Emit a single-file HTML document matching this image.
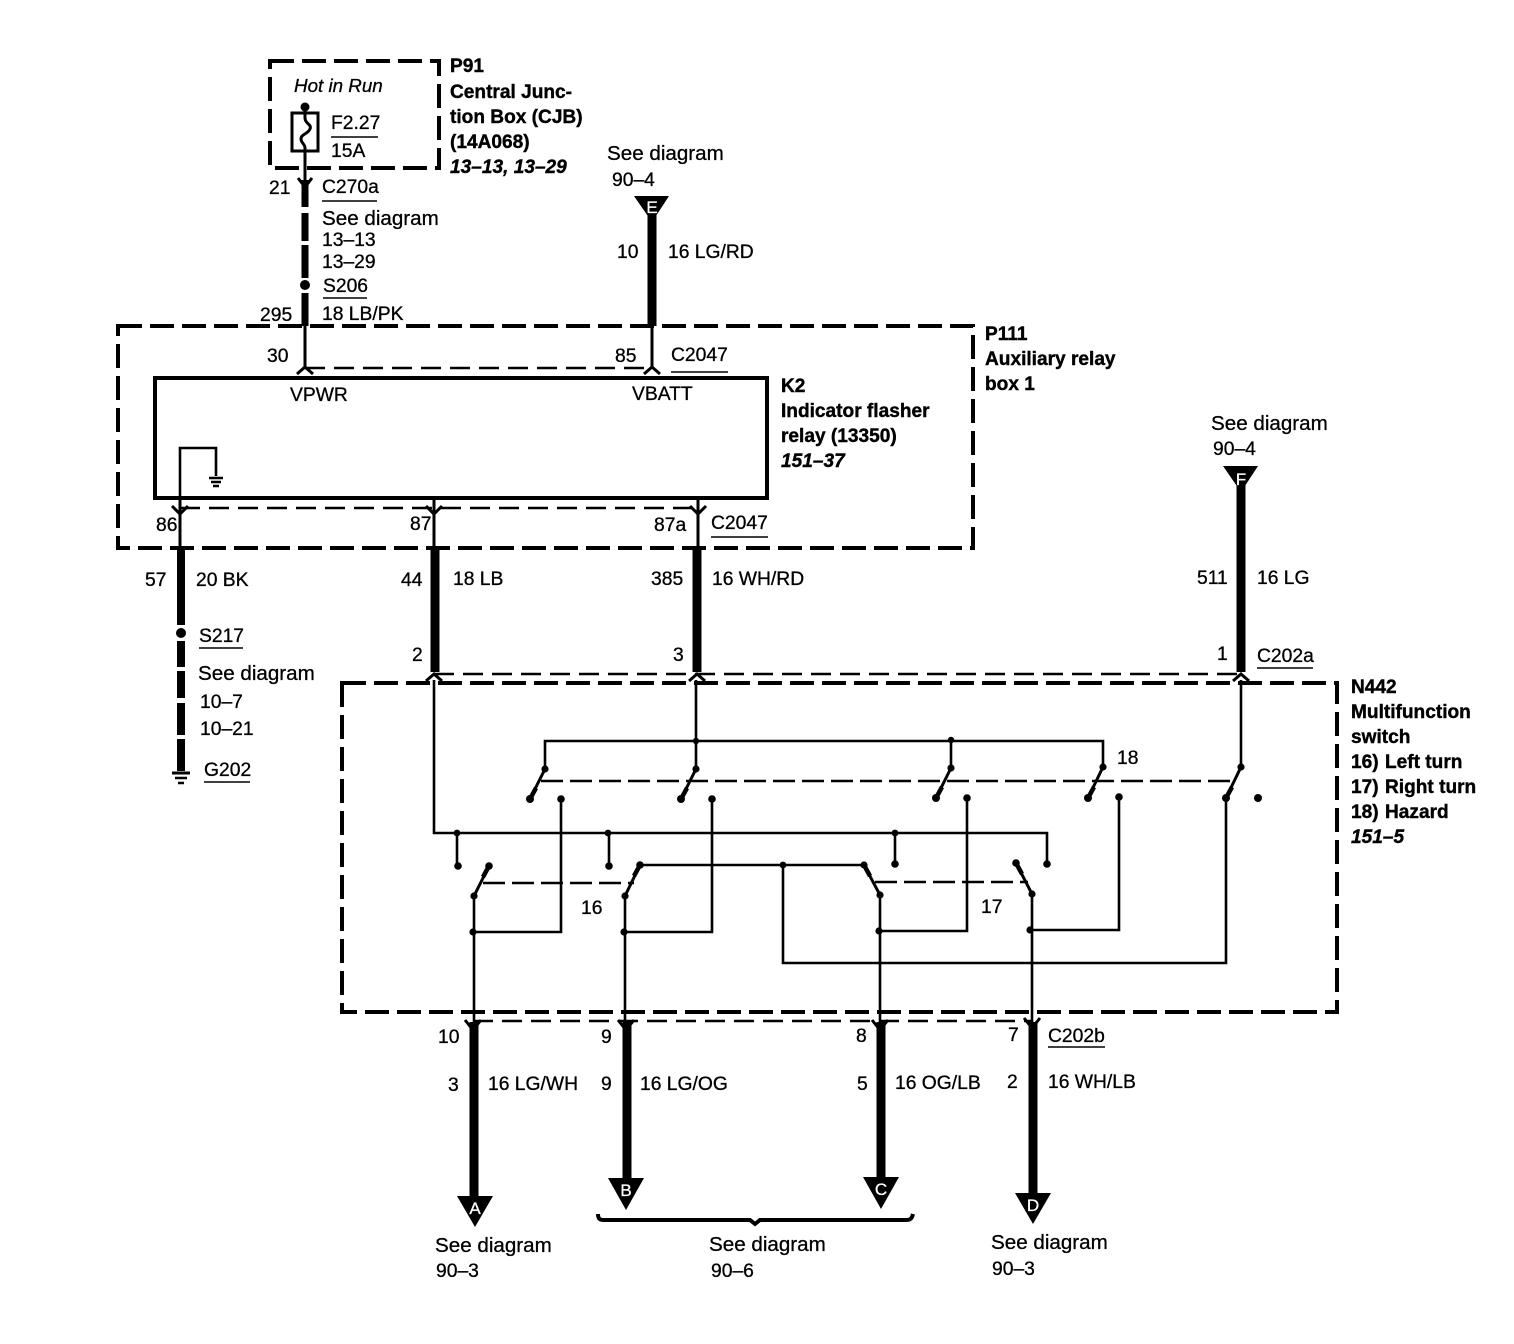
<!DOCTYPE html>
<html><head><meta charset="utf-8"><style>
html,body{margin:0;padding:0;background:#fff;width:1514px;height:1344px;overflow:hidden}
svg{display:block}
text{font-family:"Liberation Sans",sans-serif;font-size:19.3px;fill:#000;stroke:#000;stroke-width:.3}
.b{font-weight:bold;font-size:19.1px;stroke-width:.4}
.bi{font-weight:bold;font-style:italic;font-size:19.1px;stroke-width:.4}
.w{fill:#fff;stroke:#fff;font-weight:normal;font-size:17px;text-anchor:middle}
.sd{font-size:20.6px}
.bx{fill:none;stroke:#000;stroke-width:4;stroke-dasharray:24 8}
.cn{fill:none;stroke:#000;stroke-width:2.5;stroke-dasharray:20 9}
.t{fill:none;stroke:#000;stroke-width:2.6}
.m{fill:none;stroke:#000;stroke-width:3}
.u{fill:none;stroke:#000;stroke-width:1.6}
</style></head><body>
<svg width="1514" height="1344" viewBox="0 0 1514 1344" xmlns="http://www.w3.org/2000/svg">
<!-- boxes -->
<rect class="bx" x="270" y="61" width="169" height="107"/>
<rect class="bx" x="118" y="326" width="855" height="222"/>
<rect class="bx" x="342" y="683" width="995" height="329"/>
<rect x="155" y="378" width="612" height="120" fill="none" stroke="#000" stroke-width="4"/>
<!-- connector dashes -->
<path class="cn" d="M305 368H652"/>
<path class="cn" d="M180 508H698"/>
<path class="cn" d="M434 674H1240"/>
<path class="cn" d="M473 1021H1033"/>
<!-- fuse -->
<circle cx="305" cy="107" r="4.5"/>
<rect class="m" x="292" y="113" width="26" height="38"/>
<path class="m" d="M305 107V118C305 124 312 124 310 129C308 134 301 134 301 139C301 143 305 144 305 148V180"/>
<!-- P91 wire -->
<path d="M305 180V207" stroke="#000" stroke-width="7"/>
<path d="M305 213V241M305 245V278M305 293V326" stroke="#000" stroke-width="7"/>
<circle cx="305" cy="285" r="5"/>
<path class="m" d="M298 178L305 187L312 178"/>
<path class="m" d="M305 326V368"/>
<path class="m" d="M297 374L305 367L313 374"/>
<!-- E wire -->
<path d="M652 215V326" stroke="#000" stroke-width="9"/>
<path class="m" d="M652 326V368"/>
<path class="m" d="M644 374L652 367L660 374"/>
<polygon points="634,196 669,196 652,222"/>
<text class="w" x="652" y="213">E</text>
<!-- relay ground -->
<path class="t" d="M180 498V448H216V476"/>
<path d="M209 478H223M211 482H221M213 486H219" stroke="#000" stroke-width="2.4" fill="none"/>
<!-- relay outputs -->
<path class="m" d="M180 498V548M434 498V548M698 498V548"/>
<path class="m" d="M172 506L180 514L188 506M426 506L434 514L442 506M690 506L698 514L706 506"/>
<path d="M181 548V625" stroke="#000" stroke-width="8"/>
<circle cx="181" cy="633" r="5"/>
<path d="M181 641V667M181 671V698M181 703V735M181 739V764" stroke="#000" stroke-width="8"/>
<path d="M177 764H185V771H177Z" fill="#000"/><path d="M172 773H190" stroke="#000" stroke-width="3"/><path d="M175 778H187M178 783H184" stroke="#000" stroke-width="2.4" fill="none"/>
<path d="M435 548V672" stroke="#000" stroke-width="9"/>
<path d="M697 548V672" stroke="#000" stroke-width="9"/>
<!-- F wire -->
<path d="M1241 485V672" stroke="#000" stroke-width="9"/>
<polygon points="1223,466 1258,466 1241,492"/>
<text class="w" x="1241" y="485">F</text>
<path class="m" d="M426 681L434 674L442 681M689 681L697 674L705 681M1233 681L1241 674L1249 681"/>
<!-- switch wiring -->
<path class="t" d="M434 680V833H1047V864"/>
<path class="t" d="M457 833V866M609 833V866M895 833V864"/>
<path class="t" d="M696 680V769M545 769V741H1103V767M951 741V768"/>
<path class="t" d="M1241 680V767"/>
<path class="t" d="M561 799V932H473M712 799V932H624M967 798V931H880M1119 797V930H1031"/>
<path class="t" d="M474 896V1022M625 896V1022M880 895V1022M1032 894V1022"/>
<path class="t" d="M640 865H864M783 865V963H1226V798"/>
<!-- blades -->
<path class="m" d="M545 769L530 799M696 769L681 799M951 768L936 798M1103 767L1088 798M1241 767L1226 798M474 896L489 866M625 896L640 865M864 865L880 895M1016 863L1032 894"/>
<path d="M536 788L530 799M687 788L681 799M942 787L936 798M1094 787L1088 798M1232 787L1226 798M483 877L489 866M634 876L640 865M870 876L864 865M1022 874L1016 863" stroke="#000" stroke-width="4.5" fill="none"/>
<!-- dashed linkages -->
<path class="t" stroke-dasharray="22 7" d="M541 781H1236"/>
<path class="t" stroke-dasharray="22 7" d="M483 883H634"/>
<path class="t" stroke-dasharray="22 7" d="M875 882H1028"/>
<!-- dots -->
<g fill="#000">
<circle cx="545" cy="769" r="3.6"/><circle cx="696" cy="769" r="3.6"/><circle cx="951" cy="768" r="3.6"/><circle cx="1103" cy="767" r="3.6"/><circle cx="1241" cy="767" r="3.6"/>
<circle cx="530" cy="799" r="4"/><circle cx="681" cy="799" r="4"/><circle cx="936" cy="798" r="4"/><circle cx="1088" cy="798" r="4"/><circle cx="1226" cy="798" r="4"/><circle cx="1258" cy="798" r="4"/>
<circle cx="561" cy="799" r="3.8"/><circle cx="712" cy="799" r="3.8"/><circle cx="967" cy="798" r="3.8"/><circle cx="1119" cy="797" r="3.8"/>
<circle cx="696" cy="741" r="3.2"/><circle cx="951" cy="740" r="3.2"/>
<circle cx="457" cy="833" r="3.4"/><circle cx="608" cy="833" r="3.4"/><circle cx="895" cy="833" r="3.4"/>
<circle cx="458" cy="866" r="3.8"/><circle cx="609" cy="866" r="3.8"/><circle cx="895" cy="864" r="3.8"/><circle cx="1047" cy="864" r="3.8"/>
<circle cx="489" cy="866" r="3.8"/><circle cx="640" cy="865" r="3.8"/><circle cx="864" cy="865" r="3.6"/><circle cx="1016" cy="863" r="3.8"/>
<circle cx="474" cy="896" r="3.6"/><circle cx="625" cy="896" r="3.6"/><circle cx="880" cy="895" r="3.6"/><circle cx="1032" cy="894" r="3.6"/>
<circle cx="473" cy="932" r="3.6"/><circle cx="624" cy="932" r="3.6"/><circle cx="879" cy="931" r="3.6"/><circle cx="1030" cy="930" r="3.6"/>
<circle cx="783" cy="865" r="3.4"/>
</g>
<!-- bottom wires -->
<path d="M474 1022V1205" stroke="#000" stroke-width="9"/>
<path d="M627 1022V1185" stroke="#000" stroke-width="9"/>
<path d="M881 1022V1185" stroke="#000" stroke-width="9"/>
<path d="M1033 1022V1200" stroke="#000" stroke-width="9"/>
<path class="m" d="M465 1020L473 1030L481 1020M618 1020L626 1030L634 1020M872 1020L880 1030L888 1020M1024 1018L1032 1028L1040 1018"/>
<polygon points="457,1196 493,1196 475,1227"/>
<polygon points="608,1178 644,1178 626,1210"/>
<polygon points="863,1177 899,1177 881,1209"/>
<polygon points="1015,1193 1051,1193 1033,1224"/>
<text class="w" x="475" y="1214">A</text>
<text class="w" x="626" y="1196">B</text>
<text class="w" x="881" y="1195">C</text>
<text class="w" x="1033" y="1211">D</text>
<!-- brace -->
<path d="M598 1214C598 1219 600 1220 604 1220H750L755 1224L760 1220H906C911 1220 912 1218 913 1214" fill="none" stroke="#000" stroke-width="4"/>
<!-- underlines -->
<path class="u" d="M331 137H378M322 201H377M323 298H367M671 372H728M711 537H768M199 648H243M204 782H250M1257 668H1313M1048 1047H1105"/>
<!-- text -->
<text x="294" y="92" style="font-size:18.8px;font-style:italic">Hot in Run</text>
<text class="b" x="450" y="72">P91</text>
<text class="b" x="450" y="98">Central Junc-</text>
<text class="b" x="450" y="123">tion Box (CJB)</text>
<text class="b" x="450" y="148">(14A068)</text>
<text class="bi" x="450" y="173">13–13, 13–29</text>
<text x="331" y="129">F2.27</text>
<text x="331" y="157">15A</text>
<text x="269" y="194">21</text>
<text x="322" y="193">C270a</text>
<text class="sd" x="322" y="225">See diagram</text>
<text x="322" y="246">13–13</text>
<text x="322" y="268">13–29</text>
<text x="323" y="292">S206</text>
<text x="322" y="320">18 LB/PK</text>
<text x="260" y="321">295</text>
<text class="sd" x="607" y="160">See diagram</text>
<text x="612" y="186">90–4</text>
<text x="617" y="258">10</text>
<text x="668" y="258">16 LG/RD</text>
<text class="b" x="985" y="340">P111</text>
<text class="b" x="985" y="365">Auxiliary relay</text>
<text class="b" x="985" y="390">box 1</text>
<text x="267" y="362">30</text>
<text x="615" y="362">85</text>
<text x="671" y="361">C2047</text>
<text x="290" y="401">VPWR</text>
<text x="632" y="400">VBATT</text>
<text class="b" x="781" y="392">K2</text>
<text class="b" x="781" y="417">Indicator flasher</text>
<text class="b" x="781" y="442">relay (13350)</text>
<text class="bi" x="781" y="467">151–37</text>
<text class="sd" x="1211" y="430">See diagram</text>
<text x="1213" y="455">90–4</text>
<text x="156" y="531">86</text>
<text x="410" y="530">87</text>
<text x="654" y="531">87a</text>
<text x="711" y="529">C2047</text>
<text x="145" y="586">57</text>
<text x="196" y="586">20 BK</text>
<text x="401" y="586">44</text>
<text x="453" y="585">18 LB</text>
<text x="651" y="585">385</text>
<text x="712" y="585">16 WH/RD</text>
<text x="1197" y="584">511</text>
<text x="1257" y="584">16 LG</text>
<text x="199" y="642">S217</text>
<text class="sd" x="198" y="680">See diagram</text>
<text x="200" y="708">10–7</text>
<text x="200" y="735">10–21</text>
<text x="204" y="776">G202</text>
<text x="412" y="661">2</text>
<text x="673" y="661">3</text>
<text x="1217" y="660">1</text>
<text x="1257" y="662">C202a</text>
<text class="b" x="1351" y="693">N442</text>
<text class="b" x="1351" y="718">Multifunction</text>
<text class="b" x="1351" y="743">switch</text>
<text class="b" x="1351" y="768">16)<tspan x="1385">Left turn</tspan></text>
<text class="b" x="1351" y="793">17)<tspan x="1385">Right turn</tspan></text>
<text class="b" x="1351" y="818">18)<tspan x="1385">Hazard</tspan></text>
<text class="bi" x="1351" y="843">151–5</text>
<text x="1117" y="764">18</text>
<text x="581" y="914">16</text>
<text x="981" y="913">17</text>
<text x="438" y="1043">10</text>
<text x="601" y="1043">9</text>
<text x="856" y="1042">8</text>
<text x="1008" y="1041">7</text>
<text x="1048" y="1042">C202b</text>
<text x="448" y="1091">3</text>
<text x="488" y="1090">16 LG/WH</text>
<text x="601" y="1090">9</text>
<text x="640" y="1090">16 LG/OG</text>
<text x="857" y="1090">5</text>
<text x="895" y="1089">16 OG/LB</text>
<text x="1007" y="1088">2</text>
<text x="1048" y="1088">16 WH/LB</text>
<text class="sd" x="435" y="1252">See diagram</text>
<text x="436" y="1277">90–3</text>
<text class="sd" x="709" y="1251">See diagram</text>
<text x="711" y="1277">90–6</text>
<text class="sd" x="991" y="1249">See diagram</text>
<text x="992" y="1275">90–3</text>
</svg>
</body></html>
